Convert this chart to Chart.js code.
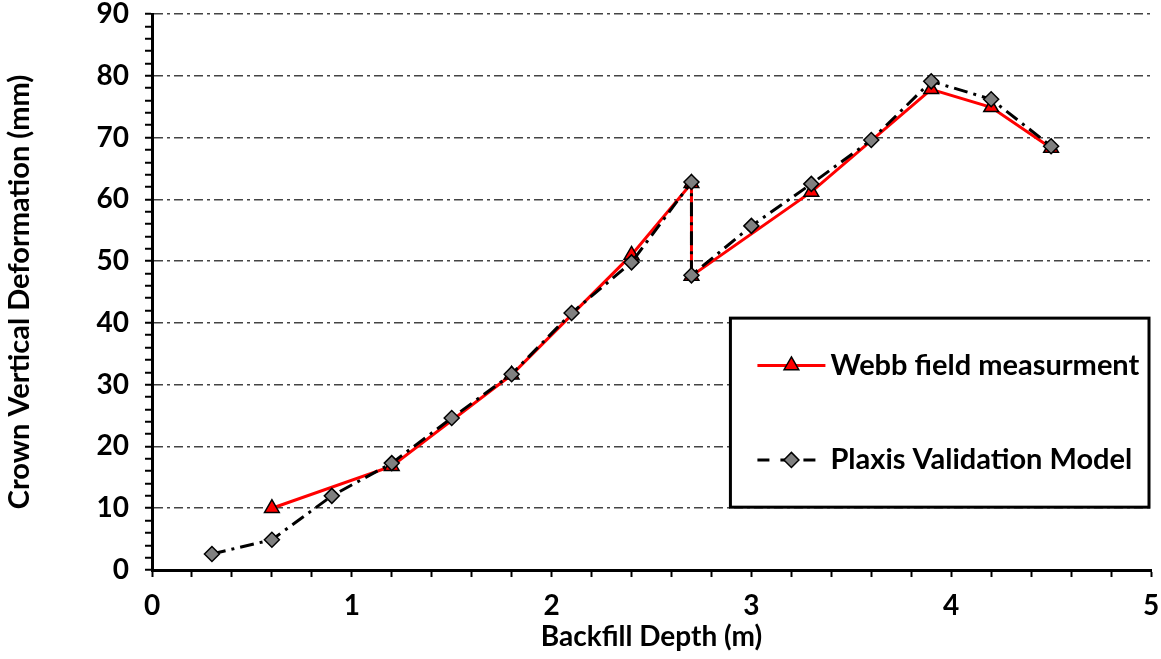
<!DOCTYPE html>
<html>
<head>
<meta charset="utf-8">
<script src="https://cdn.jsdelivr.net/npm/chart.js@4.4.0/dist/chart.umd.min.js"></script>
<style>
html, body { margin: 0; padding: 0; background: #fff; }
#wrap { width: 1161px; height: 659px; position: relative; }
</style>
</head>
<body>
<div id="wrap"><canvas id="deformChart"></canvas></div>
<script>
// ====================== 데이터 ======================
// Webb field measurment
const webbDepth = [0.6, 1.2, 1.8, 2.4, 2.7, 2.7, 3.3, 3.9, 4.2, 4.5];
const webbDeform = [10, 16.8, 31.6, 51, 62.6, 47.6, 61.2, 77.8, 74.9, 68.3];

// Plaxis Validation Model
const plaxisDepth = [0.3, 0.6, 0.9, 1.2, 1.5, 1.8, 2.1, 2.4, 2.7, 2.7, 3.0, 3.3, 3.6, 3.9, 4.2, 4.5];
const plaxisDeform = [2.6, 4.9, 12, 17.3, 24.6, 31.7, 41.6, 49.8, 62.8, 47.7, 55.7, 62.5, 69.6, 79.1, 76.2, 68.6];

const seriesNames = ['Webb field measurment', 'Plaxis Validation Model'];

// 라벨이 붙는 눈금
const xTickLabels = [0, 1, 2, 3, 4, 5];
const yTickLabels = [0, 10, 20, 30, 40, 50, 60, 70, 80, 90];

const fontFamily = 'Lato, "Open Sans", sans-serif';

function toPoints(xs, ys) {
    return xs.map((x, i) => ({ x: x, y: ys[i] }));
}

function isLabelled(list, v) {
    return list.some(t => Math.abs(t - v) < 1e-6);
}

// ====================== 범례 (plot 안쪽 박스) ======================
const boxLegend = {
    id: 'boxLegend',
    afterDraw(chart, args, opts) {
        const ctx = chart.ctx;
        const area = chart.chartArea;
        const w = area.right - area.left;
        const h = area.bottom - area.top;
        const x1 = area.left + w * opts.left;
        const x2 = area.left + w * opts.right;
        const y1 = area.top + h * opts.top;
        const y2 = area.top + h * opts.bottom;

        ctx.save();
        ctx.fillStyle = '#fff';
        ctx.fillRect(x1, y1, x2 - x1, y2 - y1);
        ctx.lineWidth = 3;
        ctx.strokeStyle = '#000';
        ctx.strokeRect(x1, y1, x2 - x1, y2 - y1);

        chart.data.datasets.forEach((ds, i) => {
            const cy = y1 + (y2 - y1) * opts.rows[i];
            const lx1 = x1 + opts.lineStart;
            const lx2 = lx1 + opts.lineLen;
            ctx.save();
            ctx.strokeStyle = ds.borderColor;
            ctx.lineWidth = ds.borderWidth;
            ctx.setLineDash(ds.legendDash || []);
            ctx.beginPath();
            ctx.moveTo(lx1, cy);
            ctx.lineTo(lx2, cy);
            ctx.stroke();
            ctx.restore();

            ctx.fillStyle = ds.pointBackgroundColor;
            ctx.strokeStyle = ds.pointBorderColor;
            ctx.lineWidth = ds.pointBorderWidth;
            Chart.helpers.drawPoint(ctx, {
                pointStyle: ds.pointStyle,
                radius: ds.pointRadius,
                borderWidth: ds.pointBorderWidth,
                rotation: 0
            }, (lx1 + lx2) / 2, cy);

            ctx.fillStyle = '#000';
            ctx.font = 'bold ' + opts.fontSize + 'px ' + fontFamily;
            ctx.textBaseline = 'middle';
            ctx.textAlign = 'left';
            ctx.fillText(ds.label, lx2 + 5, cy);
        });
        ctx.restore();
    }
};

// ====================== 차트 ======================
const deformCt = document.getElementById('deformChart');

new Chart(deformCt, {
    type: 'scatter',
    data: {
        datasets: [{
            label: seriesNames[0],
            data: toPoints(webbDepth, webbDeform),
            showLine: true,
            borderColor: '#ff0000',
            borderWidth: 3,
            pointStyle: 'triangle',
            pointRadius: 8.5,
            pointBackgroundColor: '#ff0000',
            pointBorderColor: '#000',
            pointBorderWidth: 1.5,
            order: 1
        }, {
            label: seriesNames[1],
            data: toPoints(plaxisDepth, plaxisDeform),
            showLine: true,
            borderColor: '#000',
            borderWidth: 3,
            borderDash: [14, 6, 3, 6],
            legendDash: [12, 11],
            pointStyle: 'rectRot',
            pointRadius: 7.5,
            pointBackgroundColor: '#808080',
            pointBorderColor: '#000',
            pointBorderWidth: 1.5,
            order: 0
        }]
    },
    options: {
        responsive: true,
        maintainAspectRatio: false,
        animation: false,
        layout: { padding: { top: 14, right: 9, left: 0, bottom: 0 } },
        plugins: {
            legend: { display: false },
            tooltip: { enabled: false },
            boxLegend: {
                left: 0.579, right: 0.998, top: 0.547, bottom: 0.887,
                rows: [0.25, 0.75],
                lineStart: 27, lineLen: 68, fontSize: 29
            }
        },
        scales: {
            x: {
                type: 'linear',
                min: 0,
                max: 5,
                afterFit: (scale) => {
                    scale.height = 89;
                    scale.paddingLeft = 0;
                    scale.paddingRight = 0;
                },
                ticks: {
                    stepSize: 0.2,
                    autoSkip: false,
                    maxRotation: 0,
                    padding: 12,
                    color: '#000',
                    font: { family: fontFamily, size: 28, weight: 'bold' },
                    callback: (v) => isLabelled(xTickLabels, v) ? Math.round(v) : ''
                },
                grid: {
                    drawOnChartArea: false,
                    tickLength: 7,
                    tickColor: '#000',
                    tickWidth: 2
                },
                border: { color: '#000', width: 3 },
                title: {
                    display: true,
                    text: 'Backfill Depth (m)',
                    color: '#000',
                    font: { family: fontFamily, size: 28, weight: 'bold' },
                    padding: { top: 0, bottom: 5 }
                }
            },
            y: {
                min: 0,
                max: 90,
                afterFit: (scale) => {
                    scale.width = 152;
                    scale.paddingTop = 0;
                    scale.paddingBottom = 0;
                },
                ticks: {
                    stepSize: 2,
                    autoSkip: false,
                    padding: 16,
                    color: '#000',
                    font: { family: fontFamily, size: 28, weight: 'bold' },
                    callback: (v) => isLabelled(yTickLabels, v) ? Math.round(v) : ''
                },
                grid: {
                    color: (c) => (c.tick && c.tick.value > 0 && isLabelled(yTickLabels, c.tick.value)) ? '#444' : 'rgba(0,0,0,0)',
                    lineWidth: 1.5,
                    tickLength: 7,
                    tickColor: '#000',
                    tickWidth: 2,
                    tickBorderDash: []
                },
                border: { color: '#000', width: 3, dash: [9, 4, 3, 4] },
                title: {
                    display: true,
                    text: 'Crown Vertical Deformation (mm)',
                    color: '#000',
                    font: { family: fontFamily, size: 29, weight: 'bold' },
                    padding: { top: 2, bottom: 0 }
                }
            }
        }
    },
    plugins: [boxLegend]
});
</script>
</body>
</html>
